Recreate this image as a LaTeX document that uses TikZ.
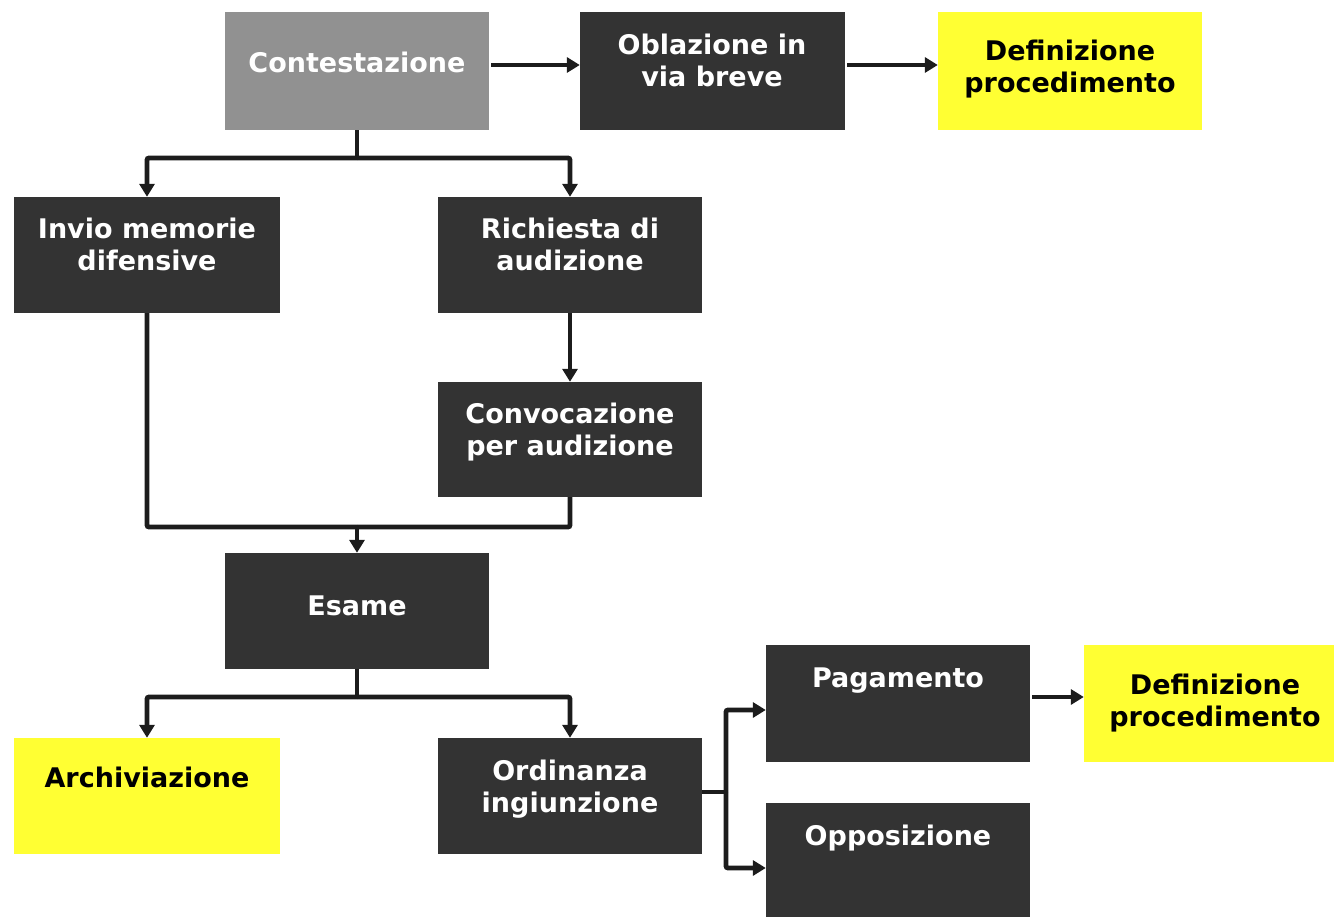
\documentclass[tikz,border=0pt]{standalone}
\usepackage{fontspec}
\setmainfont{DejaVu Sans}
\usetikzlibrary{arrows.meta}
\definecolor{boxdark}{HTML}{333333}
\definecolor{boxgray}{HTML}{919191}
\definecolor{boxyel}{HTML}{FFFF33}
\definecolor{linec}{HTML}{1C1C1C}
\newcommand{\twol}[1]{\begin{tabular}[t]{@{}c@{}}#1\end{tabular}}
\begin{document}
\begin{tikzpicture}[x=1pt,y=-1pt,
  box/.style={fill=#1, draw=none, inner sep=0pt, minimum width=265pt, minimum height=117pt},
  txt/.style={inner sep=0pt, anchor=base, font=\fontsize{27}{32}\selectfont\bfseries, text=#1},
  conn/.style={draw=linec, line width=4.8pt, rounded corners=2pt},
  arr/.style={conn, -{Triangle[length=13pt,width=15pt]}}]
\useasboundingbox (0,0) rectangle (1334,917);
% boxes
\node[box=boxgray, minimum width=264pt, minimum height=118pt] (cont) at (357,71) {};
\node[box=boxdark, minimum height=118pt] (obl) at (712.5,71) {};
\node[box=boxyel, minimum width=264pt, minimum height=118pt] (def1) at (1070,71) {};
\node[box=boxdark, minimum width=266pt, minimum height=116pt] (invio) at (147,255) {};
\node[box=boxdark, minimum width=264pt, minimum height=116pt] (rich) at (570,255) {};
\node[box=boxdark, minimum width=264pt, minimum height=115pt] (conv) at (570,439.5) {};
\node[box=boxdark, minimum width=264pt, minimum height=116pt] (esame) at (357,611) {};
\node[box=boxyel, minimum width=266pt, minimum height=116pt] (arch) at (147,796) {};
\node[box=boxdark, minimum width=264pt, minimum height=116pt] (ord) at (570,796) {};
\node[box=boxdark, minimum width=264pt] (pag) at (898,703.5) {};
\node[box=boxyel, minimum width=250pt] (def2) at (1209,703.5) {};
\node[box=boxdark, minimum width=264pt, minimum height=130pt] (opp) at (898,868) {};
% texts
\node[txt=white] (tcont) at (357,73) {Contestazione};
\node[txt=white] (tobl) at (712,55) {\twol{Oblazione in\\via breve}};
\node[txt=black] (tdef1) at (1070,61) {\twol{Definizione\\procedimento}};
\node[txt=white] (tinvio) at (147,239) {\twol{Invio memorie\\difensive}};
\node[txt=white] (trich) at (570,239) {\twol{Richiesta di\\audizione}};
\node[txt=white] (tconv) at (570,424) {\twol{Convocazione\\per audizione}};
\node[txt=white] (tesame) at (357,615) {Esame};
\node[txt=black] (tarch) at (147,787) {Archiviazione};
\node[txt=white] (tord) at (570,780) {\twol{Ordinanza\\ingiunzione}};
\node[txt=white] (tpag) at (898,687) {Pagamento};
\node[txt=black] (tdef2) at (1215,694) {\twol{Definizione\\procedimento}};
\node[txt=white] (topp) at (898,845) {Opposizione};
% junctions
\coordinate (j1) at (357,158);
\coordinate (j2) at (357,527);
\coordinate (j3) at (357,697);
\coordinate (j4) at (726,792);
% connectors
\draw[arr] ([xshift=2pt,yshift=6pt]cont.east) -- ([yshift=6pt]obl.west);
\draw[arr] ([xshift=2pt,yshift=6pt]obl.east) -- ([yshift=6pt]def1.west);
\draw[conn] (cont.south) -- (j1);
\draw[arr] (j1) -| (invio.north);
\draw[arr] (j1) -| (rich.north);
\draw[arr] (rich.south) -- (conv.north);
\draw[conn] (invio.south) |- (j2);
\draw[conn] (conv.south) |- (j2);
\draw[arr] (j2) -- (esame.north);
\draw[conn] (esame.south) -- (j3);
\draw[arr] (j3) -| (arch.north);
\draw[arr] (j3) -| (ord.north);
\draw[conn] (ord.east |- j4) -- (j4);
\draw[arr] (j4) |- ([yshift=-6.5pt]pag.west);
\draw[arr] (j4) |- (opp.west);
\draw[arr] ([xshift=2pt,yshift=6.5pt]pag.east) -- ([yshift=6.5pt]def2.west);
\end{tikzpicture}
\end{document}
